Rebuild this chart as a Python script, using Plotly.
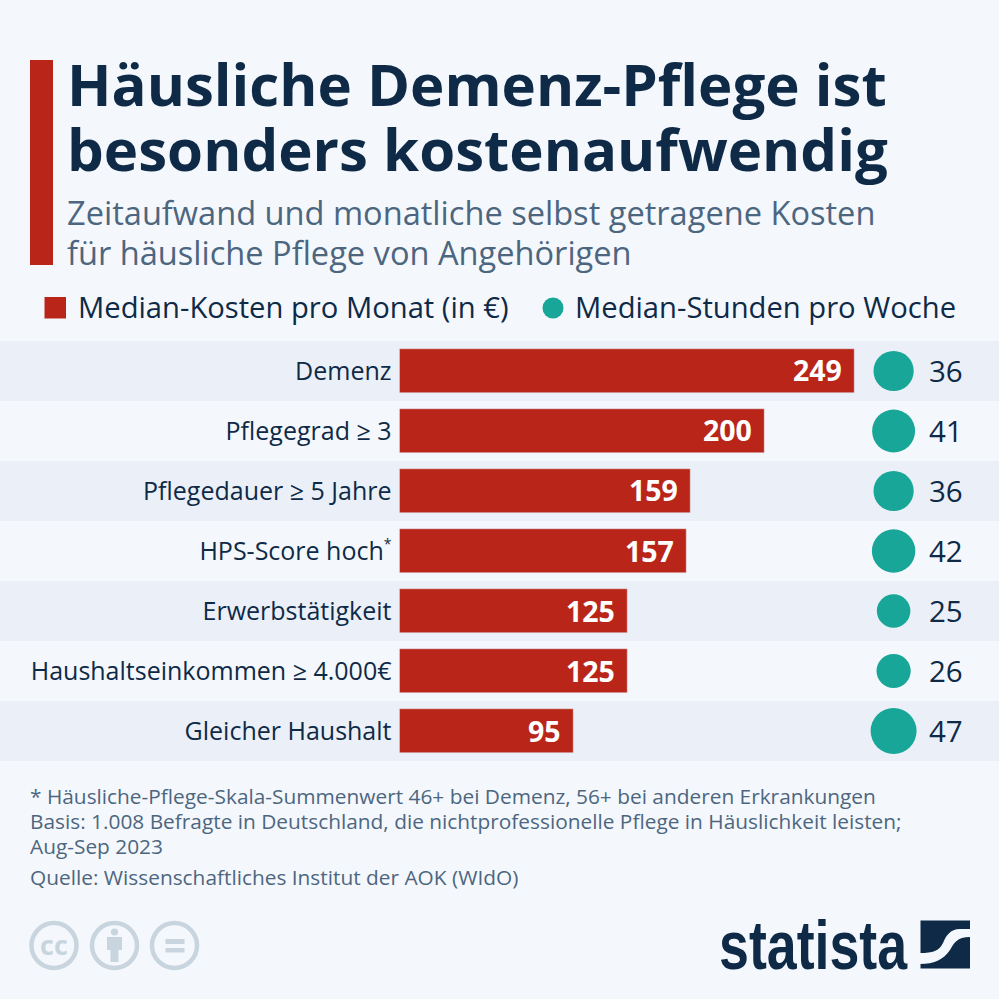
import plotly.graph_objects as go

categories = ["Demenz", "Pflegegrad ≥ 3", "Pflegedauer ≥ 5 Jahre",
              "HPS-Score hoch<sup><span style=\"font-size:14px\">*</span></sup>",
              "Erwerbstätigkeit", "Haushaltseinkommen ≥ 4.000€", "Gleicher Haushalt"]
kosten = [249, 200, 159, 157, 125, 125, 95]
stunden = [36, 41, 36, 42, 25, 26, 47]
title_lines = ["Häusliche Demenz-Pflege ist", "besonders kostenaufwendig"]
subtitle_lines = ["Zeitaufwand und monatliche selbst getragene Kosten", "für häusliche Pflege von Angehörigen"]
legend_names = ["Median-Kosten pro Monat (in €)", "Median-Stunden pro Woche"]
notes = ["* Häusliche-Pflege-Skala-Summenwert 46+ bei Demenz, 56+ bei anderen Erkrankungen",
         "Basis: 1.008 Befragte in Deutschland, die nichtprofessionelle Pflege in Häuslichkeit leisten;",
         "Aug-Sep 2023", "Quelle: Wissenschaftliches Institut der AOK (WIdO)"]

BG, BAND, RED, TEAL = "#f4f8fc", "#ebf0f8", "#b92619", "#17a697"
NAVY, SUB, ICON = "#0f2a47", "#4d6680", "#c8d5de"
FONT = "Open Sans"
W = 999
px = lambda x: x / W
py = lambda y: 1 - y / W

fig = go.Figure()
fig.add_bar(x=kosten, y=categories, orientation="h", marker=dict(color=RED), width=44 / 60,
            showlegend=False, hoverinfo="x+y", name=legend_names[0])
fig.add_scatter(x=["Punkt"] * len(stunden), y=categories, xaxis="x2", mode="markers", showlegend=False,
                marker=dict(size=stunden, sizemode="area", sizeref=1 / 22.5, color=TEAL, opacity=1, line=dict(width=0)),
                name=legend_names[1])

ann = []
def text(x, y, s, size, color, bold=False, anchor="left"):
    ann.append(dict(xref="paper", yref="paper", x=px(x), y=py(y), text=f"<b>{s}</b>" if bold else s,
                    showarrow=False, xanchor=anchor, yanchor="middle",
                    font=dict(family=FONT, size=size, color=color)))

for v, c in zip(kosten, categories):
    ann.append(dict(x=v, y=c, xref="x", yref="y", text=f"<b>{v}</b>", showarrow=False, xanchor="right",
                    xshift=-10.5, yshift=0.5, yanchor="middle", font=dict(family=FONT, size=28.5, color="white")))
for v, c in zip(stunden, categories):
    ann.append(dict(x="Wert", y=c, xref="x2", yref="y", text=str(v), showarrow=False, xanchor="center",
                    yshift=0.5, yanchor="middle", font=dict(family=FONT, size=29.5, color=NAVY)))

text(65, 83, title_lines[0], 58.2, NAVY, True)
text(65, 148, title_lines[1], 58.2, NAVY, True)
text(65, 212.5, subtitle_lines[0], 32.6, SUB)
text(65, 252.5, subtitle_lines[1], 32.6, SUB)
text(76, 307, legend_names[0], 29.2, NAVY)
text(572.5, 307, legend_names[1], 29.2, NAVY)
for s, y in zip(notes, [795.5, 820.5, 845.5, 876.5]):
    text(28, y, s, 20.85, SUB)

shapes = []
def rect(x0, y0, x1, y1, color):
    shapes.append(dict(type="rect", xref="paper", yref="paper", x0=px(x0), x1=px(x1), y0=py(y0), y1=py(y1),
                       fillcolor=color, line=dict(width=0), layer="below"))
def circ(cx, cy, r, fill="rgba(0,0,0,0)", lw=0, lc=ICON):
    shapes.append(dict(type="circle", xref="paper", yref="paper", x0=px(cx - r), x1=px(cx + r),
                       y0=py(cy + r), y1=py(cy - r), fillcolor=fill, line=dict(width=lw, color=lc), layer="below"))
def path(pts, color):
    d = " ".join(f"{c}{' '.join(f'{px(a)},{py(b)}' for a, b in p)}" for c, p in pts) + " Z"
    shapes.append(dict(type="path", xref="paper", yref="paper", layer="below", fillcolor=color,
                       line=dict(width=0), path=d))

for i, c in enumerate(categories):
    if i % 2 == 0:
        shapes.append(dict(type="rect", xref="paper", yref="y", x0=0, x1=1, y0=i - 0.5, y1=i + 0.5,
                           fillcolor=BAND, line=dict(width=0), layer="below"))
rect(30, 60, 53, 265, RED)
rect(44.5, 297, 66, 318.5, RED)
circ(553, 308, 10.5, TEAL)

# Creative-Commons-Symbole
for cx in (54, 114.5, 174.5):
    circ(cx, 945.5, 22.5, lw=4.5)
text(54, 944, "<b>cc</b>", 27, ICON, anchor="center")
circ(114.5, 932, 3.6, ICON)
path([("M", [(107, 937)]), ("L", [(122, 937)]), ("L", [(122, 950)]), ("L", [(118.5, 950)]), ("L", [(118.5, 962)]),
      ("L", [(110.5, 962)]), ("L", [(110.5, 950)]), ("L", [(107, 950)])], ICON)
rect(165.5, 939, 184.5, 944, ICON)
rect(165.5, 948, 184.5, 952.5, ICON)

# Statista-Logo
text(717, 945, "<b>statista</b>", 68, NAVY)
ann[-1]["font"]["family"] = "Liberation Sans"
rect(920.5, 920.5, 970, 968.5, NAVY)
path([("M", [(970, 929)]), ("L", [(960, 929)]), ("C", [(950, 929), (946, 936), (943, 943)]),
      ("C", [(939, 951), (933, 953), (920, 953)]), ("L", [(920, 964)]),
      ("C", [(934, 964), (943, 960), (950, 950)]),
      ("C", [(954, 943), (957, 937), (970, 937)])], BG)

fig.update_layout(
    width=W, height=W, margin=dict(l=0, r=0, t=0, b=0), paper_bgcolor=BG, plot_bgcolor="rgba(0,0,0,0)",
    bargap=0, annotations=ann, shapes=shapes, showlegend=False,
    xaxis=dict(domain=[px(399.5), 1], range=[0, 599.5 / (455 / 249)], visible=False, fixedrange=True),
    xaxis2=dict(domain=[px(867.6), px(971.6)], range=[-0.5, 1.5], type="category", categoryorder="array",
                categoryarray=["Punkt", "Wert"], visible=False, anchor="y", fixedrange=True),
    yaxis=dict(domain=[py(761), py(341)], type="category", categoryorder="array", categoryarray=categories,
               range=[6.5, -0.5], showgrid=False, zeroline=False, showline=False, ticks="outside", ticklen=2,
               tickcolor="rgba(0,0,0,0)", tickwidth=0, tickfont=dict(family=FONT, size=25, color=NAVY), fixedrange=True),
)
squeeze = """
document.body.style.margin='0';
var t=[...document.querySelectorAll('.annotation-text')].find(function(e){return e.textContent==='statista';});
if(t){var b=t.getBBox();t.setAttribute('transform','translate('+b.x+' 0) scale('+(189/b.width)+' 1) translate('+(-b.x)+' 0)');}
"""
fig.write_html("out.html", post_script=squeeze, config=dict(displayModeBar=False))
